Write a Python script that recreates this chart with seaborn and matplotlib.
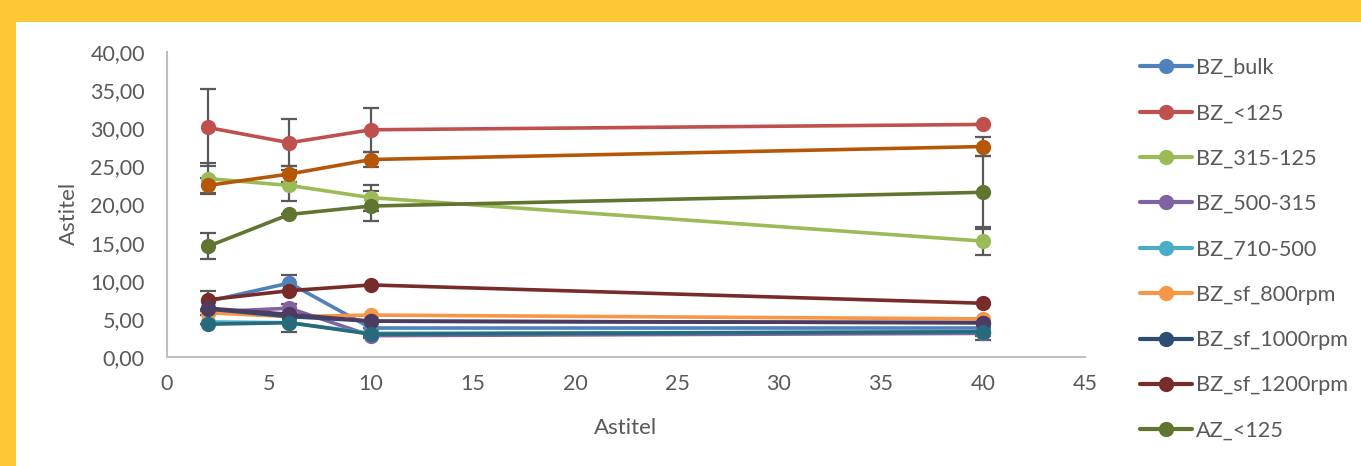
import pandas as pd
import numpy as np
import matplotlib
matplotlib.use('Agg')
import matplotlib.pyplot as plt
from matplotlib.patches import Rectangle
from matplotlib.lines import Line2D
from matplotlib.ticker import FuncFormatter, MultipleLocator
import seaborn as sns

# data
x_vals = [2, 6, 10, 40]
series_names = ['BZ_bulk', 'BZ_<125', 'BZ_315-125', 'BZ_500-315', 'BZ_710-500',
                'BZ_sf_800rpm', 'BZ_sf_1000rpm', 'BZ_sf_1200rpm', 'AZ_<125',
                'S10', 'S11', 'S12']
bz_bulk = [7.3, 9.7, 3.8, 3.8]
bz_125 = [30.1, 28.1, 29.8, 30.5]
bz_315_125 = [23.4, 22.5, 20.9, 15.2]
bz_500_315 = [5.9, 6.4, 2.8, 3.1]
bz_710_500 = [4.6, 4.5, 3.1, 3.3]
bz_sf_800 = [5.8, 5.3, 5.5, 5.0]
bz_sf_1000 = [6.3, 5.3, 4.7, 4.5]
bz_sf_1200 = [7.5, 8.7, 9.45, 7.05]
az_125 = [14.5, 18.7, 19.8, 21.6]
s10 = [6.4, 5.6, 4.7, 4.5]
s11 = [4.3, 4.5, 3.0, 3.3]
s12 = [22.5, 24.0, 25.9, 27.6]

err_bulk = [1.3, 1.1, 0, 0]
err_125 = [5.0, 3.1, 2.9, 0]
err_315_125 = [2.0, 2.0, 1.7, 1.8]
err_500_315 = [0.4, 0.6, 0.3, 0.3]
err_az_125 = [1.7, 0, 2.0, 4.8]
err_s11 = [0, 1.2, 0.3, 1.1]
err_s12 = [1.0, 1.0, 1.0, 1.2]

values = [bz_bulk, bz_125, bz_315_125, bz_500_315, bz_710_500, bz_sf_800,
          bz_sf_1000, bz_sf_1200, az_125, s10, s11, s12]
errors = {'BZ_bulk': err_bulk, 'BZ_<125': err_125, 'BZ_315-125': err_315_125,
          'BZ_500-315': err_500_315, 'AZ_<125': err_az_125,
          'S11': err_s11, 'S12': err_s12}

colors = ['#4F81BD', '#C0504D', '#9BBB59', '#8064A2', '#4BACC6', '#F79646',
          '#2C4D75', '#772C2A', '#5F7530', '#4D3B62', '#276A7C', '#B65708']

rows = []
for name, vals in zip(series_names, values):
    for xv, yv in zip(x_vals, vals):
        rows.append({'x': xv, 'y': yv, 'serie': name})
df = pd.DataFrame(rows)

sns.set_style('white')
plt.rcParams['font.family'] = ['Lato', 'DejaVu Sans']

W, H = 1361, 466
fig = plt.figure(figsize=(W / 100, H / 100), dpi=100, facecolor='#FCC934')
fig.patches.append(Rectangle((16 / W, 0), 1, 1 - 22 / H, transform=fig.transFigure,
                             facecolor='white', edgecolor='none', zorder=-5))
ax = fig.add_axes([167 / W, 1 - 357 / H, (1085 - 167) / W, (357 - 52) / H])
ax.set_zorder(2)
ax.set_facecolor('none')

# error bars first, under markers
for i, name in enumerate(series_names):
    if name in errors:
        ax.errorbar(x_vals, values[i], yerr=errors[name], fmt='none',
                    ecolor='#595959', elinewidth=1.6, capsize=5.5, capthick=1.6,
                    zorder=2 + i * 0.01)

for i, name in enumerate(series_names):
    sub = df[df['serie'] == name]
    sns.lineplot(data=sub, x='x', y='y', ax=ax, color=colors[i], linewidth=2.6,
                 marker='o', markersize=11, markeredgewidth=0, sort=False,
                 legend=False, zorder=3 + i * 0.01)

ax.set_xlim(0, 45)
ax.set_ylim(0, 40)
ax.xaxis.set_major_locator(MultipleLocator(5))
ax.yaxis.set_major_locator(MultipleLocator(5))
ax.yaxis.set_major_formatter(FuncFormatter(lambda v, p: f'{v:.2f}'.replace('.', ',')))
ax.tick_params(axis='both', length=0, labelsize=15.5, labelcolor='#595959')
ax.tick_params(axis='y', pad=16)
ax.tick_params(axis='x', pad=12)
for s in ['top', 'right']:
    ax.spines[s].set_visible(False)
for s in ['left', 'bottom']:
    ax.spines[s].set_color('#BFBFBF')
    ax.spines[s].set_linewidth(1.5)

ax.set_xlabel('Astitel', fontsize=16, color='#595959')
ax.set_ylabel('Astitel', fontsize=16, color='#595959')
ax.xaxis.set_label_coords(0.5, -0.2)
ax.yaxis.set_label_coords(-0.096, 0.47)

handles = [Line2D([0], [0], color=colors[i], linewidth=3, marker='o', markersize=11,
                  markeredgewidth=0) for i in range(9)]
fig.legend(handles, series_names[:9], loc='upper left',
           bbox_to_anchor=(1140 / W, 1 - 58 / H), frameon=False, fontsize=15.6,
           labelcolor='#595959', handlelength=2.4, handletextpad=0.2,
           labelspacing=1.17, borderpad=0, borderaxespad=0)

fig.savefig('out.png', dpi=100, facecolor=fig.get_facecolor())
